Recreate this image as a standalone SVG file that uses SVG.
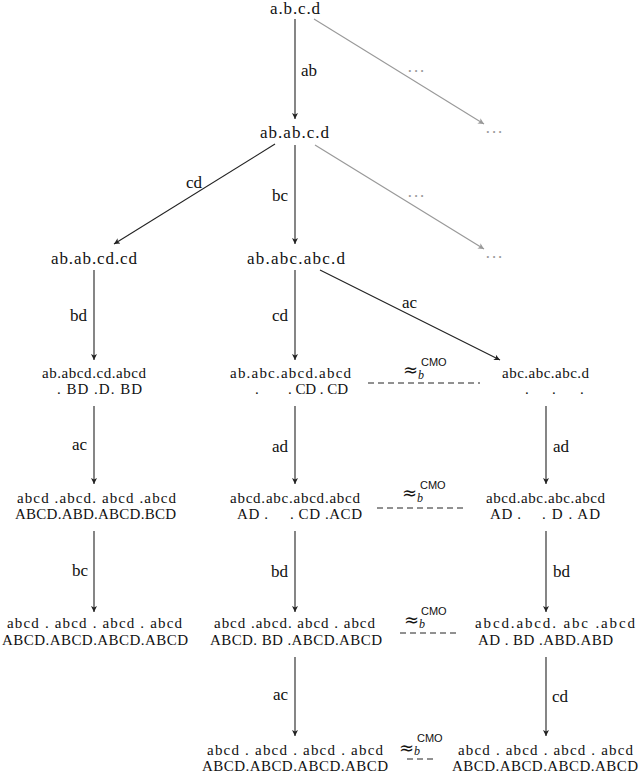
<svg xmlns="http://www.w3.org/2000/svg" width="640" height="773" viewBox="0 0 640 773" font-family="'Liberation Serif', serif">
<style>
text { font-family: "Liberation Serif", serif; fill: #111; }
.big { font-size: 17px; }
.sm { font-size: 15px; }
.lbl { font-size: 17px; }
.gdots { font-size: 17px; fill: #999; }
.edge { stroke: #222; stroke-width: 1.1; fill: none; marker-end: url(#ah); }
.gedge { stroke: #999; stroke-width: 1.1; fill: none; marker-end: url(#gah); }
.eqv { stroke: #222; stroke-width: 1; stroke-dasharray: 6 4; fill: none; }
text.approx { font-family: "DejaVu Serif", "DejaVu Sans", serif; font-size: 18px; }
.sub { font-style: italic; font-size: 12px; }
text.sup { font-family: "Liberation Sans", sans-serif; font-size: 11px; }
</style>
<defs>
<marker id="ah" viewBox="0 0 10 10" markerWidth="7" markerHeight="6" refX="10" refY="5" orient="auto" markerUnits="userSpaceOnUse">
<path d="M0,0 L10,5 L0,10 L2.5,5 z" fill="#222"/>
</marker>
<marker id="gah" viewBox="0 0 10 10" markerWidth="7" markerHeight="6" refX="10" refY="5" orient="auto" markerUnits="userSpaceOnUse">
<path d="M0,0 L10,5 L0,10 L2.5,5 z" fill="#999"/>
</marker>
</defs>

<g id="connectors">
<line class="edge" x1="295" y1="19" x2="295" y2="119"/>
<line class="gedge" x1="314" y1="19" x2="484" y2="124"/>
<line class="edge" x1="275" y1="144" x2="114" y2="244"/>
<line class="edge" x1="295" y1="145" x2="295" y2="244"/>
<line class="gedge" x1="315" y1="145" x2="484" y2="249"/>
<line class="edge" x1="94" y1="270" x2="94" y2="360"/>
<line class="edge" x1="295" y1="270" x2="295" y2="360"/>
<line class="edge" x1="320" y1="270" x2="500" y2="360"/>
<line class="edge" x1="94" y1="406" x2="94" y2="484"/>
<line class="edge" x1="295" y1="406" x2="295" y2="484"/>
<line class="edge" x1="546" y1="406" x2="546" y2="484"/>
<line class="edge" x1="94" y1="531" x2="94" y2="612"/>
<line class="edge" x1="295" y1="531" x2="295" y2="612"/>
<line class="edge" x1="546" y1="531" x2="546" y2="612"/>
<line class="edge" x1="295" y1="657" x2="295" y2="736"/>
<line class="edge" x1="546" y1="657" x2="546" y2="736"/>
<text class="lbl" x="301" y="76">ab</text>
<text class="lbl" x="186" y="188">cd</text>
<text class="lbl" x="288" y="201" text-anchor="end">bc</text>
<text class="lbl" x="87" y="321" text-anchor="end">bd</text>
<text class="lbl" x="288" y="321" text-anchor="end">cd</text>
<text class="lbl" x="402" y="308">ac</text>
<text class="lbl" x="87" y="450" text-anchor="end">ac</text>
<text class="lbl" x="288" y="452" text-anchor="end">ad</text>
<text class="lbl" x="553" y="452">ad</text>
<text class="lbl" x="88" y="576" text-anchor="end">bc</text>
<text class="lbl" x="288" y="577" text-anchor="end">bd</text>
<text class="lbl" x="553" y="577">bd</text>
<text class="lbl" x="288" y="700" text-anchor="end">ac</text>
<text class="lbl" x="552" y="702">cd</text>
<text class="gdots" x="407" y="77" textLength="18" lengthAdjust="spacing">···</text>
<text class="gdots" x="485" y="138" textLength="18" lengthAdjust="spacing">···</text>
<text class="gdots" x="407" y="202" textLength="18" lengthAdjust="spacing">···</text>
<text class="gdots" x="485" y="263" textLength="18" lengthAdjust="spacing">···</text>
</g>

<g id="equivalences">
<g id="eq1">
<line class="eqv" x1="368" y1="383" x2="480" y2="383"/>
<text class="approx" x="403" y="376">≈</text>
<text class="sub" x="418" y="379">b</text>
<text class="sup" x="421" y="366">CMO</text>
</g>
<g id="eq2">
<line class="eqv" x1="377" y1="508" x2="467" y2="508"/>
<text class="approx" x="402" y="499">≈</text>
<text class="sub" x="417" y="502">b</text>
<text class="sup" x="420" y="489">CMO</text>
</g>
<g id="eq3">
<line class="eqv" x1="400" y1="633" x2="458" y2="633"/>
<text class="approx" x="404" y="626">≈</text>
<text class="sub" x="419" y="628">b</text>
<text class="sup" x="421" y="615">CMO</text>
</g>
<g id="eq4">
<line class="eqv" x1="407" y1="759" x2="433" y2="759"/>
<text class="approx" x="399" y="754">≈</text>
<text class="sub" x="414" y="755">b</text>
<text class="sup" x="417" y="742">CMO</text>
</g>
</g>

<g id="n0"><text class="big" x="270" y="14" textLength="50" lengthAdjust="spacing">a.b.c.d</text></g>
<g id="n1"><text class="big" x="260" y="138" textLength="69" lengthAdjust="spacing">ab.ab.c.d</text></g>
<g id="n2"><text class="big" x="51" y="264" textLength="86" lengthAdjust="spacing">ab.ab.cd.cd</text></g>
<g id="n3"><text class="big" x="247" y="264" textLength="98" lengthAdjust="spacing">ab.abc.abc.d</text></g>

<g id="n4">
<text class="sm" x="42" y="378" textLength="104" lengthAdjust="spacing">ab.abcd.cd.abcd</text>
<text class="sm" x="57" y="394" textLength="85" lengthAdjust="spacing" xml:space="preserve">. BD .D. BD</text>
</g>
<g id="n5">
<text class="sm" x="230" y="378" textLength="121" lengthAdjust="spacing">ab.abc.abcd.abcd</text>
<text class="sm" x="255" y="394">.</text>
<text class="sm" x="288" y="394" textLength="60" lengthAdjust="spacing" xml:space="preserve">. CD . CD</text>
</g>
<g id="n6">
<text class="sm" x="502" y="378" textLength="87" lengthAdjust="spacing">abc.abc.abc.d</text>
<text class="sm" x="525" y="394">.</text>
<text class="sm" x="552" y="394">.</text>
<text class="sm" x="580" y="394">.</text>
</g>

<g id="n7">
<text class="sm" x="17" y="503" textLength="159" lengthAdjust="spacing" xml:space="preserve">abcd .abcd. abcd .abcd</text>
<text class="sm" x="15" y="519" textLength="161" lengthAdjust="spacing">ABCD.ABD.ABCD.BCD</text>
</g>
<g id="n8">
<text class="sm" x="230" y="503" textLength="130" lengthAdjust="spacing">abcd.abc.abcd.abcd</text>
<text class="sm" x="237" y="519" textLength="31" lengthAdjust="spacing" xml:space="preserve">AD .</text>
<text class="sm" x="290" y="519" textLength="72" lengthAdjust="spacing" xml:space="preserve">. CD .ACD</text>
</g>
<g id="n9">
<text class="sm" x="486" y="503" textLength="119" lengthAdjust="spacing">abcd.abc.abc.abcd</text>
<text class="sm" x="490" y="519" textLength="31" lengthAdjust="spacing" xml:space="preserve">AD .</text>
<text class="sm" x="542" y="519" textLength="58" lengthAdjust="spacing" xml:space="preserve">. D . AD</text>
</g>

<g id="n10">
<text class="sm" x="7" y="628" textLength="175" lengthAdjust="spacing" xml:space="preserve">abcd . abcd . abcd . abcd</text>
<text class="sm" x="2" y="645" textLength="186" lengthAdjust="spacing">ABCD.ABCD.ABCD.ABCD</text>
</g>
<g id="n11">
<text class="sm" x="214" y="628" textLength="161" lengthAdjust="spacing" xml:space="preserve">abcd .abcd. abcd . abcd</text>
<text class="sm" x="210" y="645" textLength="172" lengthAdjust="spacing" xml:space="preserve">ABCD. BD .ABCD.ABCD</text>
</g>
<g id="n12">
<text class="sm" x="475" y="628" textLength="160" lengthAdjust="spacing" xml:space="preserve">abcd.abcd. abc .abcd</text>
<text class="sm" x="478" y="645" textLength="135" lengthAdjust="spacing" xml:space="preserve">AD . BD .ABD.ABD</text>
</g>

<g id="n13">
<text class="sm" x="207" y="755" textLength="176" lengthAdjust="spacing" xml:space="preserve">abcd . abcd . abcd . abcd</text>
<text class="sm" x="202" y="771" textLength="186" lengthAdjust="spacing">ABCD.ABCD.ABCD.ABCD</text>
</g>
<g id="n14">
<text class="sm" x="458" y="755" textLength="175" lengthAdjust="spacing" xml:space="preserve">abcd . abcd . abcd . abcd</text>
<text class="sm" x="452" y="771" textLength="186" lengthAdjust="spacing">ABCD.ABCD.ABCD.ABCD</text>
</g>
</svg>
